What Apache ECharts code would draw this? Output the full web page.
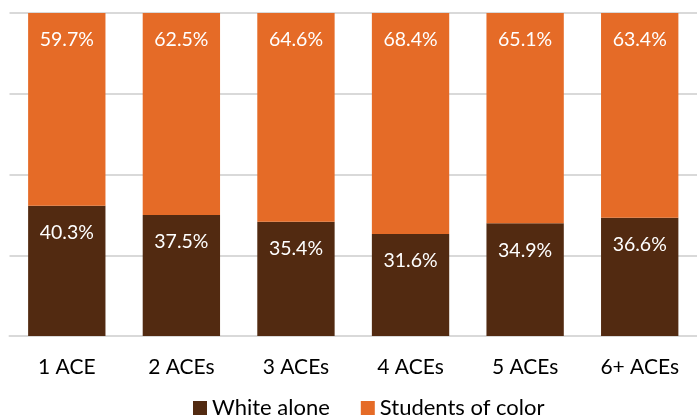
<!DOCTYPE html>
<html>
<head>
<meta charset="utf-8">
<script src="https://cdn.jsdelivr.net/npm/echarts@6/dist/echarts.min.js"></script>
<style>
  html, body { margin: 0; padding: 0; background: #ffffff; }
  #chart { width: 697px; height: 417px; }
</style>
</head>
<body>
<div id="chart"></div>
<script>
// ACE count groups and share of students in each group (percent)
const categories = ['1 ACE', '2 ACEs', '3 ACEs', '4 ACEs', '5 ACEs', '6+ ACEs'];
const whiteAlone = [40.3, 37.5, 35.4, 31.6, 34.9, 36.6];
const studentsOfColor = [59.7, 62.5, 64.6, 68.4, 65.1, 63.4];
const seriesNames = ['White alone', 'Students of color'];

const FONT = 'Lato';
const chart = echarts.init(document.getElementById('chart'), null, { renderer: 'canvas' });

const valueLabel = {
  show: true,
  position: 'insideTop',
  distance: 17,
  color: '#ffffff',
  fontFamily: FONT,
  fontSize: 19.5,
  formatter: p => p.value.toFixed(1) + '%'
};

chart.setOption({
  animation: false,
  backgroundColor: '#ffffff',
  grid: { left: 9.5, right: -12.5, top: 13, bottom: 81, containLabel: false },
  xAxis: {
    type: 'category',
    data: categories,
    axisLine: { show: true, lineStyle: { color: '#d9d9d9', width: 2 } },
    axisTick: { show: false },
    axisLabel: { color: '#000000', fontFamily: FONT, fontSize: 21, margin: 21 }
  },
  yAxis: {
    type: 'value',
    min: 0,
    max: 100,
    interval: 25,
    axisLabel: { show: false },
    axisLine: { show: false },
    axisTick: { show: false },
    splitLine: { lineStyle: { color: '#d9d9d9', width: 2 } }
  },
  legend: {
    bottom: -7,
    left: 188,
    itemWidth: 14,
    itemHeight: 14,
    itemGap: 31,
    icon: 'rect',
    textStyle: { color: '#000000', fontFamily: FONT, fontSize: 22 },
    data: seriesNames
  },
  series: [
    {
      name: seriesNames[0],
      type: 'bar',
      stack: 'share',
      barWidth: '67.5%',
      itemStyle: { color: '#522a11' },
      label: valueLabel,
      data: whiteAlone
    },
    {
      name: seriesNames[1],
      type: 'bar',
      stack: 'share',
      barWidth: '67.5%',
      itemStyle: { color: '#e56b27' },
      label: valueLabel,
      data: studentsOfColor
    }
  ]
});
</script>
</body>
</html>
